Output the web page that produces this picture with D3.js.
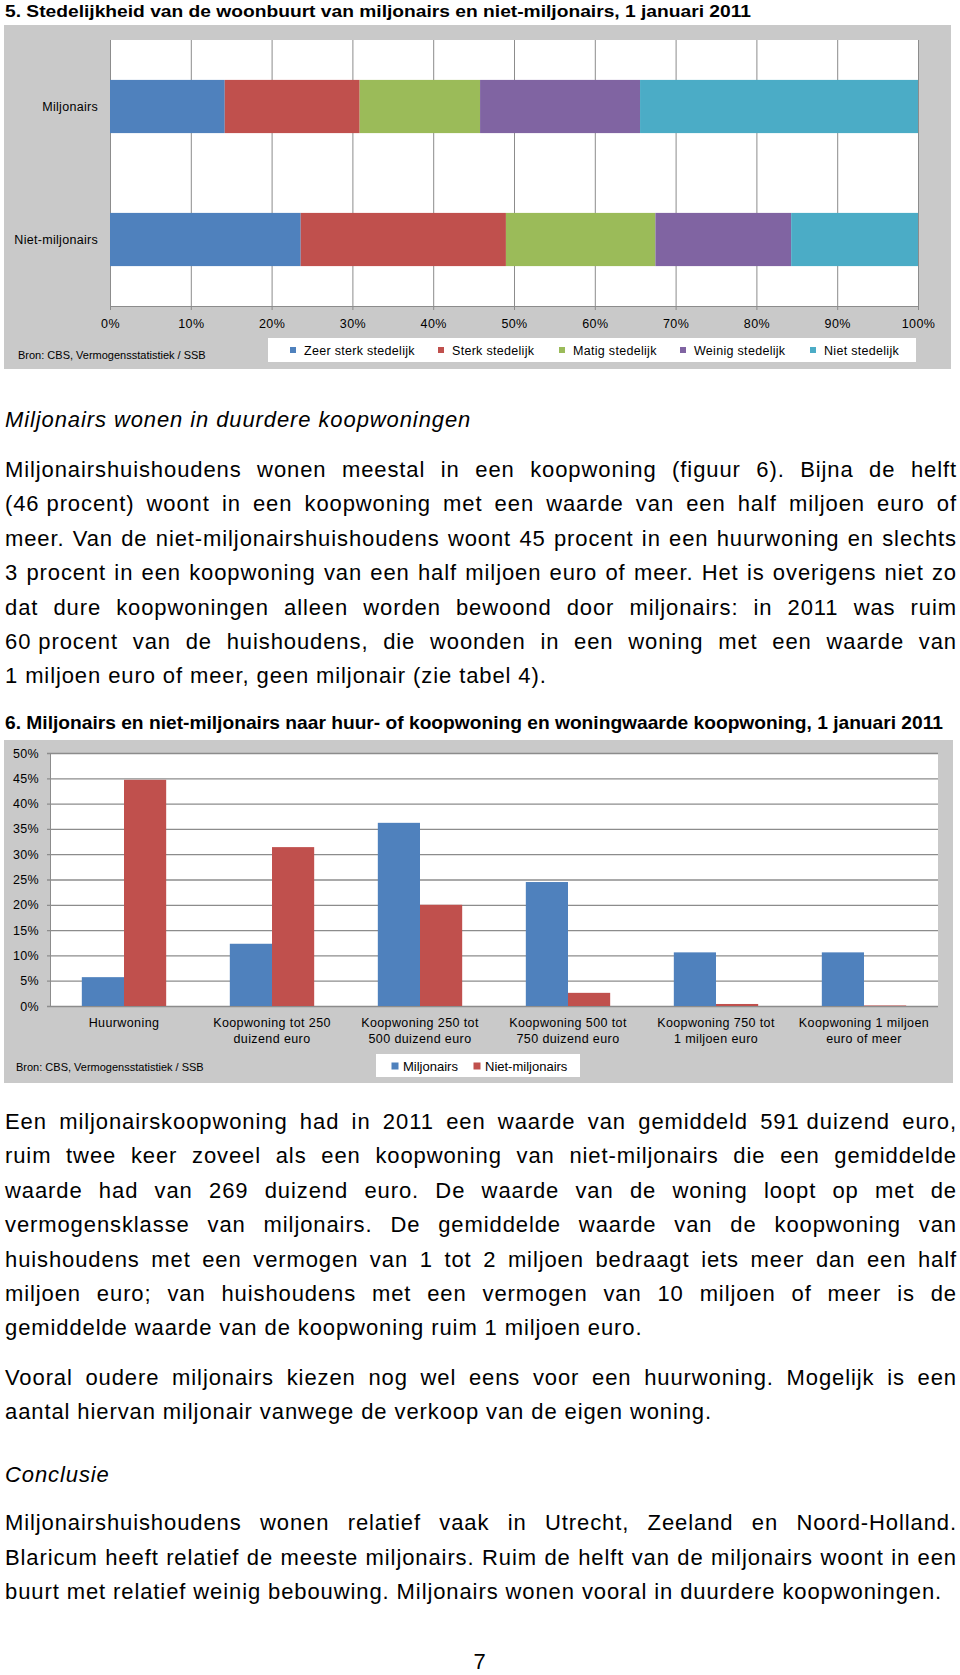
<!DOCTYPE html>
<html>
<head>
  <meta charset='utf-8'>
  <title>Miljonairs - stedelijkheid en woning</title>
  <script src="https://cdn.jsdelivr.net/npm/d3@7"></script>
  <style>
    html, body { margin: 0; padding: 0; background: #fff; }
    svg { display: block; font-family: "Liberation Sans", Arial, sans-serif; }
    .body-text { font-size: 22px; letter-spacing: 0.9px; fill: #000; }
    .small { font-size: 12.5px; letter-spacing: 0.3px; fill: #000; }
  </style>
</head>
<body>
<svg id="page" width="960" height="1675"></svg>
<script>
// ---- figuur 5 data
var groups5 = ['Miljonairs', 'Niet-miljonairs'];
var klassen = ['Zeer sterk stedelijk', 'Sterk stedelijk', 'Matig stedelijk', 'Weinig stedelijk', 'Niet stedelijk'];
var miljonairs5 = [14.2, 16.7, 14.9, 19.8, 34.4];
var nietMiljonairs5 = [23.6, 25.4, 18.5, 16.8, 15.7];
var ticks5 = [0, 10, 20, 30, 40, 50, 60, 70, 80, 90, 100];

// ---- figuur 6 data
var cats6 = ['Huurwoning', 'Koopwoning tot 250|duizend euro', 'Koopwoning 250 tot|500 duizend euro',
  'Koopwoning 500 tot|750 duizend euro', 'Koopwoning 750 tot|1 miljoen euro', 'Koopwoning 1 miljoen|euro of meer'];
var series6 = ['Miljonairs', 'Niet-miljonairs'];
var miljonairs6 = [5.7, 12.3, 36.2, 24.5, 10.6, 10.6];
var nietMiljonairs6 = [44.7, 31.4, 20.0, 2.6, 0.4, 0.1];
var ticks6 = [0, 5, 10, 15, 20, 25, 30, 35, 40, 45, 50];

// ---- tekst
var title5 = '5. Stedelijkheid van de woonbuurt van miljonairs en niet-miljonairs, 1 januari 2011';
var title6 = '6. Miljonairs en niet-miljonairs naar huur- of koopwoning en woningwaarde koopwoning, 1 januari 2011';
var bron = 'Bron: CBS, Vermogensstatistiek / SSB';
var heading1 = 'Miljonairs wonen in duurdere koopwoningen';
var heading2 = 'Conclusie';
var para1 = [
  'Miljonairshuishoudens wonen meestal in een koopwoning (figuur 6). Bijna de helft',
  '(46\u00a0procent) woont in een koopwoning met een waarde van een half miljoen euro of',
  'meer. Van de niet-miljonairshuishoudens woont 45 procent in een huurwoning en slechts',
  '3 procent in een koopwoning van een half miljoen euro of meer. Het is overigens niet zo',
  'dat dure koopwoningen alleen worden bewoond door miljonairs: in 2011 was ruim',
  '60\u00a0procent van de huishoudens, die woonden in een woning met een waarde van',
  '1 miljoen euro of meer, geen miljonair (zie tabel 4).'
];
var para2 = [
  'Een miljonairskoopwoning had in 2011 een waarde van gemiddeld 591\u00a0duizend euro,',
  'ruim twee keer zoveel als een koopwoning van niet-miljonairs die een gemiddelde',
  'waarde had van 269 duizend euro. De waarde van de woning loopt op met de',
  'vermogensklasse van miljonairs. De gemiddelde waarde van de koopwoning van',
  'huishoudens met een vermogen van 1 tot 2 miljoen bedraagt iets meer dan een half',
  'miljoen euro; van huishoudens met een vermogen van 10 miljoen of meer is de',
  'gemiddelde waarde van de koopwoning ruim 1 miljoen euro.'
];
var para3 = [
  'Vooral oudere miljonairs kiezen nog wel eens voor een huurwoning. Mogelijk is een',
  'aantal hiervan miljonair vanwege de verkoop van de eigen woning.'
];
var para4 = [
  'Miljonairshuishoudens wonen relatief vaak in Utrecht, Zeeland en Noord-Holland.',
  'Blaricum heeft relatief de meeste miljonairs. Ruim de helft van de miljonairs woont in een',
  'buurt met relatief weinig bebouwing. Miljonairs wonen vooral in duurdere koopwoningen.'
];

var colors = ['#4F81BD', '#C0504D', '#9BBB59', '#8064A2', '#4BACC6'];
var gray = '#c9c9c9';
var gridColor = '#8c8c8c';

var svg = d3.select('#page');

// justified line: every word placed on its own
function textLine(g, line, y, x0, x1, justify) {
  var words = line.split(' ');
  var t = g.append('text').attr('class', 'body-text').attr('y', y);
  if (!justify || words.length < 2) {
    t.attr('x', x0).text(line);
    return;
  }
  var spans = words.map(function (w) { return t.append('tspan').text(w); });
  var widths = spans.map(function (s) { return s.node().getComputedTextLength(); });
  var gap = (x1 - x0 - d3.sum(widths)) / (words.length - 1);
  var x = x0;
  spans.forEach(function (s, i) {
    s.attr('x', x);
    x += widths[i] + gap;
  });
}

function paragraph(lines, y0, step) {
  var g = svg.append('g');
  lines.forEach(function (l, i) {
    textLine(g, l, y0 + i * step, 5, 957, i < lines.length - 1);
  });
}

// ================= figuur 5 =================
svg.append('text').attr('x', 5).attr('y', 16.5)
  .attr('font-size', 17).attr('font-weight', 'bold')
  .attr('textLength', 746).attr('lengthAdjust', 'spacingAndGlyphs').text(title5);

svg.append('rect').attr('x', 4).attr('y', 25).attr('width', 947).attr('height', 344).attr('fill', gray);

var m5 = { left: 110, right: 918, top: 40, bottom: 306 };
svg.append('rect').attr('x', m5.left).attr('y', m5.top)
  .attr('width', m5.right - m5.left).attr('height', m5.bottom - m5.top).attr('fill', '#fff');

var x5 = d3.scaleLinear().domain([0, 100]).range([m5.left, m5.right]);
var y5 = d3.scaleBand().domain(groups5).range([m5.top, m5.bottom]).paddingInner(0.6).paddingOuter(0.3);

// gridlines
svg.append('g').attr('transform', 'translate(0,' + m5.bottom + ')')
  .call(d3.axisBottom(x5).tickValues(ticks5).tickSize(-(m5.bottom - m5.top)).tickFormat(''))
  .call(function (g) {
    g.select('.domain').remove();
    g.selectAll('line').attr('stroke', gridColor);
  });

var stack5 = groups5.map(function (gname, gi) {
  var vals = gi === 0 ? miljonairs5 : nietMiljonairs5;
  var acc = 0;
  return vals.map(function (v, k) {
    var seg = { group: gname, k: k, x0: acc, x1: acc + v };
    acc += v;
    return seg;
  });
});

svg.append('g').selectAll('rect')
  .data(d3.merge(stack5))
  .enter().append('rect')
  .attr('x', d => x5(d.x0))
  .attr('width', d => x5(d.x1) - x5(d.x0))
  .attr('y', d => y5(d.group))
  .attr('height', y5.bandwidth())
  .attr('fill', d => colors[d.k]);

// axis with labels
svg.append('g').attr('transform', 'translate(0,' + m5.bottom + ')')
  .call(d3.axisBottom(x5).tickValues(ticks5).tickSizeInner(4).tickSizeOuter(0).tickPadding(9)
    .tickFormat(d => d + '%'))
  .call(function (g) {
    g.select('.domain').attr('stroke', gridColor);
    g.selectAll('line').attr('stroke', gridColor);
    g.selectAll('text').attr('font-size', 12.5).attr('letter-spacing', 0.4).attr('font-family', null).attr('fill', '#000');
  });

svg.append('g').selectAll('text')
  .data(groups5).enter().append('text')
  .attr('class', 'small')
  .attr('x', 98)
  .attr('y', d => y5(d) + y5.bandwidth() / 2 + 4)
  .attr('text-anchor', 'end')
  .text(d => d);

svg.append('text').attr('x', 18).attr('y', 359).attr('font-size', 11).text(bron);

svg.append('rect').attr('x', 268).attr('y', 338).attr('width', 648).attr('height', 24).attr('fill', '#fff');
var legX5 = [293, 441, 562, 683, 813];
var leg5 = svg.append('g').selectAll('g').data(klassen).enter().append('g')
  .attr('transform', (d, i) => 'translate(' + legX5[i] + ',350)');
leg5.append('rect').attr('x', -3).attr('y', -3).attr('width', 6).attr('height', 6).attr('fill', (d, i) => colors[i]);
leg5.append('text').attr('class', 'small').attr('x', 11).attr('y', 4.5).text(d => d);

// ================= tekst 1 =================
svg.append('text').attr('x', 5).attr('y', 427).attr('class', 'body-text')
  .attr('font-style', 'italic').text(heading1);
paragraph(para1, 477, 34.4);

// ================= figuur 6 =================
svg.append('text').attr('x', 5).attr('y', 729)
  .attr('font-size', 18.5).attr('font-weight', 'bold')
  .attr('textLength', 938).attr('lengthAdjust', 'spacingAndGlyphs').text(title6);

svg.append('rect').attr('x', 4).attr('y', 740).attr('width', 949).attr('height', 343).attr('fill', gray);

var m6 = { left: 50, right: 938, top: 753, bottom: 1006 };
svg.append('rect').attr('x', m6.left).attr('y', m6.top)
  .attr('width', m6.right - m6.left).attr('height', m6.bottom - m6.top).attr('fill', '#fff');

var y6 = d3.scaleLinear().domain([0, 50]).range([m6.bottom, m6.top]);
var x6 = d3.scaleBand().domain(cats6).range([m6.left, m6.right]).paddingInner(0.43).paddingOuter(0.215);
var xs6 = d3.scaleBand().domain(series6).range([0, x6.bandwidth()]);

svg.append('g').attr('transform', 'translate(' + m6.left + ',0)')
  .call(d3.axisLeft(y6).tickValues(ticks6).tickSizeInner(-(m6.right - m6.left)).tickSizeOuter(0)
    .tickPadding(11).tickFormat(d => d + '%'))
  .call(function (g) {
    g.select('.domain').attr('stroke', gridColor);
    g.selectAll('line').attr('stroke', gridColor).attr('stroke-width', 1.3).attr('x1', -3);
    g.selectAll('text').attr('font-size', 12.5).attr('letter-spacing', 0.3).attr('font-family', null).attr('fill', '#000');
  });

var rows6 = cats6.map(function (c, i) {
  return [{ cat: c, s: series6[0], v: miljonairs6[i] }, { cat: c, s: series6[1], v: nietMiljonairs6[i] }];
});

svg.append('g').selectAll('rect')
  .data(d3.merge(rows6))
  .enter().append('rect')
  .attr('x', d => x6(d.cat) + xs6(d.s))
  .attr('width', xs6.bandwidth())
  .attr('y', d => y6(d.v))
  .attr('height', d => y6(0) - y6(d.v))
  .attr('fill', d => d.s === series6[0] ? colors[0] : colors[1]);

var lab6 = svg.append('g').selectAll('text')
  .data(cats6).enter().append('text')
  .attr('font-size', 12.5).attr('letter-spacing', 0.4)
  .attr('text-anchor', 'middle')
  .attr('y', 1027);
lab6.each(function (d) {
  var t = d3.select(this);
  var cx = x6(d) + x6.bandwidth() / 2;
  d.split('|').forEach(function (part, i) {
    t.append('tspan').attr('x', cx).attr('dy', i === 0 ? 0 : 16).text(part);
  });
});

svg.append('text').attr('x', 16).attr('y', 1071).attr('font-size', 11).text(bron);

svg.append('rect').attr('x', 376).attr('y', 1054).attr('width', 204).attr('height', 23).attr('fill', '#fff');
var legX6 = [395, 477];
var leg6 = svg.append('g').selectAll('g').data(series6).enter().append('g')
  .attr('transform', (d, i) => 'translate(' + legX6[i] + ',1066)');
leg6.append('rect').attr('x', -3.5).attr('y', -3.5).attr('width', 7).attr('height', 7).attr('fill', (d, i) => colors[i]);
leg6.append('text').attr('x', 8).attr('y', 5).attr('font-size', 13).text(d => d);

// ================= tekst 2 =================
paragraph(para2, 1129, 34.4);
paragraph(para3, 1385, 34.4);
svg.append('text').attr('x', 5).attr('y', 1482).attr('class', 'body-text')
  .attr('font-style', 'italic').text(heading2);
paragraph(para4, 1530, 34.6);

svg.append('text').attr('x', 480).attr('y', 1669).attr('class', 'body-text')
  .attr('text-anchor', 'middle').text('7');
</script>
</body>
</html>
